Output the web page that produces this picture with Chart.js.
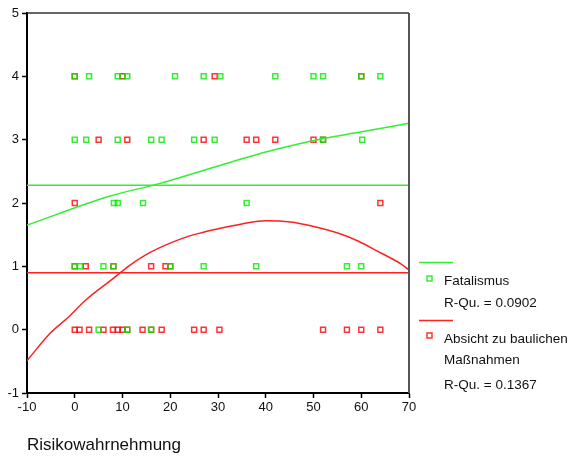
<!DOCTYPE html>
<html><head><meta charset="utf-8">
<script src="https://cdn.jsdelivr.net/npm/chart.js@4/dist/chart.umd.min.js"></script>
<style>html,body{margin:0;padding:0;background:#fff;overflow:hidden;}</style>
</head><body>
<canvas id="c" width="573" height="462"></canvas>
<script>
// Scatter data (x = Risikowahrnehmung, y = score)
const fatalismusX = [0, 3, 9, 11, 21, 27, 30.5, 42, 50, 52, 60, 64,
                     0, 2.4, 9, 16, 18.2, 25, 29.3, 52, 60.2,
                     8.2, 9, 14.3, 36,
                     0, 1.1, 6, 8.1, 20, 27, 38, 57, 60,
                     5, 11, 16];
const fatalismusY = [4, 4, 4, 4, 4, 4, 4, 4, 4, 4, 4, 4,
                     3, 3, 3, 3, 3, 3, 3, 3, 3,
                     2, 2, 2, 2,
                     1, 1, 1, 1, 1, 1, 1, 1, 1,
                     0, 0, 0];
const absichtX = [0, 10, 29.3, 60,
                  5, 11, 27, 36, 38, 42, 50, 52,
                  0, 64,
                  0, 2.3, 8.1, 16, 19, 20,
                  0, 1, 3, 6, 8, 9, 10, 11, 14.2, 16, 18.2, 25, 27, 30.3, 52, 57, 60, 64];
const absichtY = [4, 4, 4, 4,
                  3, 3, 3, 3, 3, 3, 3, 3,
                  2, 2,
                  1, 1, 1, 1, 1, 1,
                  0, 0, 0, 0, 0, 0, 0, 0, 0, 0, 0, 0, 0, 0, 0, 0, 0, 0];
// Fit curves
const fatalismusFitX = [-10, 7.4, 17.9, 33.3, 40.2, 52.1, 59.8, 70];
const fatalismusFitY = [1.65, 2.11, 2.31, 2.66, 2.81, 3.02, 3.12, 3.26];
const absichtFitX = [-10, -5.2, -1, 2.2, 7.4, 11.6, 15.8, 22.1, 26, 30.5, 35, 40, 45.2, 49.4, 55.7, 59.3, 64.1, 68.3, 70];
const absichtFitY = [-0.49, -0.06, 0.22, 0.46, 0.77, 1.02, 1.22, 1.43, 1.52, 1.60, 1.67, 1.72, 1.70, 1.64, 1.51, 1.40, 1.21, 1.04, 0.94];
const fatalismusMean = 2.28;
const absichtMean = 0.90;
const xRange = [-10, 70];
const yRange = [-1, 5];
const legendLabels = ['Fatalismus', 'R-Qu. = 0.0902', 'Absicht zu baulichen', 'Maßnahmen', 'R-Qu. = 0.1367'];
const xTitle = 'Risikowahrnehmung';

const GREEN = 'rgba(0,235,0,0.8)';
const RED = 'rgba(255,0,0,0.8)';
const GREEN_LINE = '#33ee33';
const RED_LINE = '#ff2020';
const FONT = '"Liberation Sans", Arial, sans-serif';

const zip = (xs, ys) => xs.map((x, i) => ({x, y: ys[i]}));

const frame = {
  id: 'frame',
  afterDatasetsDraw(chart) {
    const {ctx, chartArea: a} = chart;
    ctx.save();
    ctx.strokeStyle = '#333';
    ctx.lineWidth = 1.5;
    ctx.beginPath(); ctx.moveTo(a.left, a.top); ctx.lineTo(a.right, a.top); ctx.stroke();
    ctx.strokeStyle = '#555';
    ctx.lineWidth = 2;
    ctx.beginPath(); ctx.moveTo(a.right, a.top); ctx.lineTo(a.right, a.bottom); ctx.stroke();
    ctx.restore();
  },
  afterDraw(chart) {
    const ctx = chart.ctx;
    ctx.save();
    ctx.font = '13.5px ' + FONT;
    ctx.fillStyle = '#111';
    ctx.textBaseline = 'middle';
    ctx.textAlign = 'left';
    // green entry
    ctx.strokeStyle = GREEN_LINE; ctx.lineWidth = 1.5;
    ctx.beginPath(); ctx.moveTo(419, 262.5); ctx.lineTo(453, 262.5); ctx.stroke();
    ctx.strokeStyle = GREEN; ctx.lineWidth = 1.5;
    ctx.strokeRect(427, 276, 5, 5);
    ctx.fillText(legendLabels[0], 444, 281);
    ctx.fillText(legendLabels[1], 444, 303);
    // red entry
    ctx.strokeStyle = RED_LINE; ctx.lineWidth = 1.5;
    ctx.beginPath(); ctx.moveTo(419, 320.5); ctx.lineTo(453, 320.5); ctx.stroke();
    ctx.strokeStyle = RED; ctx.lineWidth = 1.5;
    ctx.strokeRect(427, 333, 5, 5);
    ctx.fillText(legendLabels[2], 444, 339);
    ctx.fillText(legendLabels[3], 444, 360);
    ctx.fillText(legendLabels[4], 444, 385);
    ctx.restore();
  }
};

new Chart(document.getElementById('c'), {
  type: 'scatter',
  data: {
    datasets: [
      {label: 'Fatalismus mean', type: 'line', data: zip(xRange, [fatalismusMean, fatalismusMean]),
       borderColor: GREEN_LINE, borderWidth: 1.5, pointRadius: 0, fill: false},
      {label: 'Absicht mean', type: 'line', data: zip(xRange, [absichtMean, absichtMean]),
       borderColor: RED_LINE, borderWidth: 1.5, pointRadius: 0, fill: false},
      {label: 'Fatalismus fit', type: 'line', data: zip(fatalismusFitX, fatalismusFitY),
       borderColor: GREEN_LINE, borderWidth: 1.5, pointRadius: 0, fill: false, cubicInterpolationMode: 'monotone'},
      {label: 'Absicht fit', type: 'line', data: zip(absichtFitX, absichtFitY),
       borderColor: RED_LINE, borderWidth: 1.5, pointRadius: 0, fill: false, cubicInterpolationMode: 'monotone'},
      {label: 'Fatalismus', data: zip(fatalismusX, fatalismusY), pointStyle: 'rect',
       pointRadius: 3.5, pointHoverRadius: 3.5, borderColor: GREEN, backgroundColor: 'rgba(0,0,0,0)', borderWidth: 1.5},
      {label: 'Absicht zu baulichen Maßnahmen', data: zip(absichtX, absichtY), pointStyle: 'rect',
       pointRadius: 3.5, pointHoverRadius: 3.5, borderColor: RED, backgroundColor: 'rgba(0,0,0,0)', borderWidth: 1.5}
    ]
  },
  options: {
    responsive: false,
    animation: false,
    devicePixelRatio: 1,
    layout: {padding: {left: 0, right: 164, top: 13, bottom: 0}},
    plugins: {legend: {display: false}, tooltip: {enabled: false}},
    scales: {
      x: {
        type: 'linear', min: xRange[0], max: xRange[1],
        afterFit(s) { s.height = 69; },
        ticks: {stepSize: 10, color: '#111', font: {family: FONT, size: 13}, padding: 2, maxRotation: 0},
        grid: {display: true, drawOnChartArea: false, drawTicks: true, tickLength: 5, color: '#000', tickWidth: 1.5},
        border: {display: true, color: '#000', width: 2},
        title: {display: true, text: xTitle, align: 'start', color: '#111',
                font: {family: FONT, size: 17}, padding: {top: 0, bottom: 6}}
      },
      y: {
        type: 'linear', min: yRange[0], max: yRange[1],
        afterFit(s) { s.width = 27; },
        ticks: {stepSize: 1, color: '#111', font: {family: FONT, size: 13}, padding: 3},
        grid: {display: true, drawOnChartArea: false, drawTicks: true, tickLength: 5, color: '#000', tickWidth: 1.5},
        border: {display: true, color: '#000', width: 2}
      }
    }
  },
  plugins: [frame]
});
</script>
</body></html>
